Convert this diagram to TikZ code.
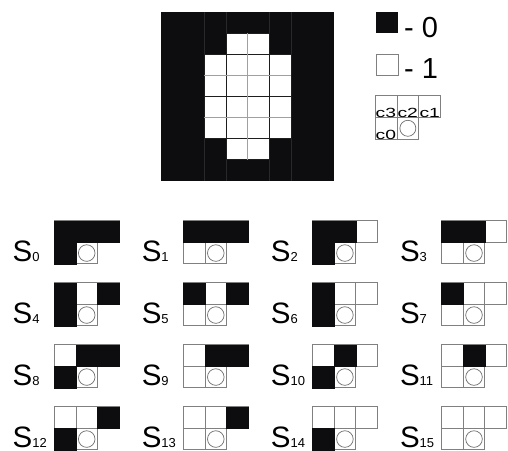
\documentclass[tikz,border=0pt]{standalone}
\usepackage{fontspec}
\setmainfont{Liberation Sans}
\newfontfamily\widefont[FakeStretch=1.45]{Liberation Sans}
\definecolor{blk}{RGB}{13,13,15}
\definecolor{cellgray}{RGB}{128,128,128}
\definecolor{circgray}{RGB}{110,110,110}
\definecolor{faint}{RGB}{40,40,42}
\definecolor{gridd}{RGB}{30,30,30}
\definecolor{gridl}{RGB}{160,160,160}
\tikzset{
  cellline/.style={draw=cellgray,line width=0.8pt},
  blackcell/.style={fill=blk,draw=blk,line width=0.4pt},
  ring/.style={draw=circgray,line width=0.7pt,fill=white},
  slabel/.style={inner sep=0pt,anchor=base west,font=\fontsize{29.5}{29.5}\selectfont},
  leglabel/.style={inner sep=0pt,anchor=base west,font=\fontsize{29}{29}\selectfont},
  clabel/.style={inner sep=0pt,anchor=base west,font=\widefont\fontsize{13.3}{13.3}\selectfont},
}
\newcommand\cw{21.6}
\newcommand\ch{21.5}
\newcommand\mycell[3]{%
  \ifnum#3=0 \path[blackcell] (#1*\cw,#2*\ch) rectangle ++(\cw,\ch);\fi}
\begin{document}
\begin{tikzpicture}[x=1pt,y=-1pt]
\useasboundingbox (0,0) rectangle (508,450);
\clip (0,0) rectangle (508,450);
% ---------- main grid ----------
\begin{scope}[shift={(161,12.3)}, x=21.67pt, y=-21.08pt]
  \fill[blk] (0,0) rectangle (8,8);
  \foreach \i in {2,3,5,6} \draw[faint,line width=0.7pt] (\i,0) -- (\i,8);
  \foreach \c/\r in {3/1,4/1,2/2,3/2,4/2,5/2,2/3,3/3,4/3,5/3,2/4,3/4,4/4,5/4,2/5,3/5,4/5,5/5,3/6,4/6}
    \draw[fill=white,draw=gridd,line width=1pt] (\c,\r) rectangle ++(1,1);
  \draw[gridl,line width=1pt] (4,1) -- (4,7);
  \draw[gridl,line width=1pt] (2,3) -- (6,3) (2,5) -- (6,5);
\end{scope}
% ---------- legend ----------
\fill[blk] (376,12.3) rectangle (398.3,33.3);
\node[leglabel] (zero) at (404,37.8) {- 0};
\draw[cellline,fill=white] (376.7,54.5) rectangle (398.3,75.5);
\node[leglabel] (one) at (404,78.2) {- 1};
\begin{scope}[shift={(375,95.3)}]
  \draw[cellline] (0,0) rectangle ++(21.9,22) (21.9,0) rectangle ++(21.9,22) (43.8,0) rectangle ++(21.9,22);
  \draw[cellline] (0,22) rectangle ++(21.9,22) (21.9,22) rectangle ++(21.9,22);
  \node[clabel] (c3) at (0.5,21.9) {c3};
  \node[clabel] (c2) at (22.4,21.9) {c2};
  \node[clabel] (c1) at (44.3,21.9) {c1};
  \node[clabel] (c0) at (0.5,43.7) {c0};
  \draw[ring] (32.85,33) circle (8);
\end{scope}
% ---------- sixteen states ----------
\foreach \k in {0,...,15}{
  \pgfmathtruncatemacro\col{mod(\k,4)}
  \pgfmathtruncatemacro\row{div(\k,4)}
  \pgfmathsetmacro\gx{54.3+129.1*\col}
  \pgfmathsetmacro\gy{220.8+62*\row}
  \pgfmathtruncatemacro\bthree{mod(div(\k,8),2)}
  \pgfmathtruncatemacro\btwo{mod(div(\k,4),2)}
  \pgfmathtruncatemacro\bone{mod(div(\k,2),2)}
  \pgfmathtruncatemacro\bzero{mod(\k,2)}
  \begin{scope}[shift={(\gx,\gy)}]
    \draw[cellline,fill=white] (0,0) rectangle ++(\cw,\ch);
    \draw[cellline,fill=white] (\cw,0) rectangle ++(\cw,\ch);
    \draw[cellline,fill=white] (2*\cw,0) rectangle ++(\cw,\ch);
    \draw[cellline,fill=white] (0,\ch) rectangle ++(\cw,\ch);
    \draw[cellline,fill=white] (\cw,\ch) rectangle ++(\cw,\ch);
    \mycell{0}{0}{\bthree}
    \mycell{1}{0}{\btwo}
    \mycell{2}{0}{\bone}
    \mycell{0}{1}{\bzero}
    \draw[ring] (1.5*\cw,1.5*\ch) circle (8.3);
  \end{scope}
  \node[slabel] (s\k) at (\gx-41.8,\gy+40.2) {\smash{S{\fontsize{13}{13}\selectfont\k}}};
}
\end{tikzpicture}
\end{document}
